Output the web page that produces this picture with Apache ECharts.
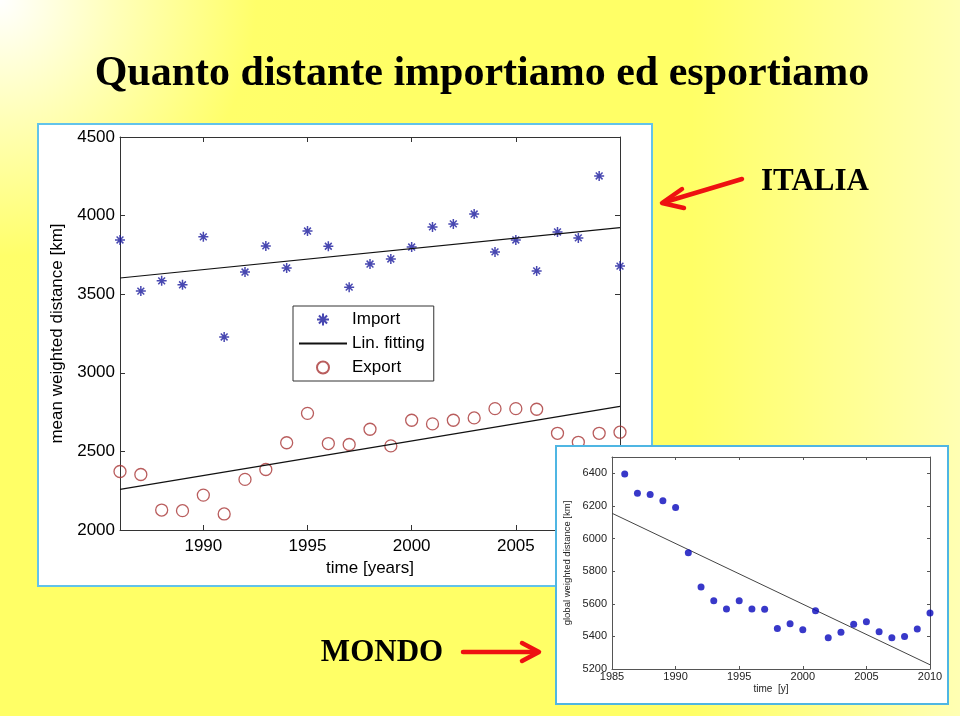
<!DOCTYPE html>
<html>
<head>
<meta charset="utf-8">
<script src="https://cdn.jsdelivr.net/npm/echarts@6/dist/echarts.min.js"></script>
<style>html,body{margin:0;padding:0;background:#fff}#c{width:960px;height:716px}</style>
</head>
<body>
<div id="c"></div>
<script>
// ---- Italy (main chart) ----
var years = [1986,1987,1988,1989,1990,1991,1992,1993,1994,1995,1996,1997,1998,1999,2000,2001,2002,2003,2004,2005,2006,2007,2008,2009,2010];
var importKm = [3845,3520,3585,3560,3865,3228,3641,3807,3667,3902,3805,3545,3692,3724,3800,3928,3947,4010,3769,3845,3648,3896,3858,4252,3679];
var exportKm = [2372,2353,2127,2123,2222,2102,2322,2385,2555,2742,2550,2544,2641,2535,2698,2675,2698,2713,2772,2772,2768,2615,2558,2615,2622];
var fitYears = [1986, 2010];
var importFit = [3603, 3923];
var exportFit = [2258, 2787];
var mainXTicks = [1990, 1995, 2000, 2005];
// ---- World (inset chart) ----
var worldYears = [1986,1987,1988,1989,1990,1991,1992,1993,1994,1995,1996,1997,1998,1999,2000,2001,2002,2003,2004,2005,2006,2007,2008,2009,2010];
var worldKm = [6395,6277,6270,6231,6190,5913,5703,5619,5568,5619,5568,5566,5449,5478,5440,5557,5392,5425,5474,5489,5429,5392,5400,5446,5544];
var worldFitYears = [1985, 2010];
var worldFit = [6155, 5226];
var worldYTicks = [5200,5400,5600,5800,6000,6200,6400];

function pairs(xs, ys){ return xs.map(function(x,i){ return [x, ys[i]]; }); }
function plain(v){ return String(v); }

var SANS = 'Liberation Sans, Arial, sans-serif';
var SERIF = 'Liberation Serif, Times New Roman, serif';
var STAR = 'path://M5,0L5,10M0,5L10,5M1.6,1.6L8.4,8.4M1.6,8.4L8.4,1.6';

var chart = echarts.init(document.getElementById('c'), null, {renderer:'canvas'});
var axisLine = {lineStyle:{color:'#333', width:1}};
var inAxisLine = {lineStyle:{color:'#555', width:1}};

var option = {
  animation: false,
  backgroundColor: '#ffffff',
  graphic: {
    elements: [
      {type:'rect', z:-20, shape:{x:0,y:0,width:960,height:716}, silent:true,
       style:{fill:{type:'radial', x:0, y:0, r:0.55, colorStops:[{offset:0,color:'#ffffff'},{offset:0.3,color:'#ffffb8'},{offset:0.65,color:'#ffff6a'},{offset:1,color:'#ffff66'}]}}},
      {type:'rect', z:-19, shape:{x:0,y:0,width:960,height:716}, silent:true,
       style:{fill:{type:'linear', x:0, y:0, x2:1, y2:0, colorStops:[{offset:0,color:'rgba(255,255,255,0)'},{offset:0.72,color:'rgba(255,255,255,0)'},{offset:1,color:'rgba(255,255,255,0.5)'}]}}},
      {type:'text', z:-15, style:{text:'Quanto distante importiamo ed esportiamo', x:482, y:74, align:'center', verticalAlign:'middle', font:'bold 42px ' + SERIF, fill:'#000'}},
      {type:'rect', z:-10, shape:{x:38,y:124,width:614,height:462}, style:{fill:'#ffffff', stroke:'#62c3ea', lineWidth:2}},
      {type:'rect', z:20, shape:{x:556,y:446,width:392,height:258}, style:{fill:'#ffffff', stroke:'#4fb6e3', lineWidth:2}},
      {type:'text', z:40, style:{text:'ITALIA', x:815, y:182, align:'center', verticalAlign:'middle', font:'bold 31px ' + SERIF, fill:'#000'}},
      {type:'text', z:40, style:{text:'MONDO', x:382, y:653, align:'center', verticalAlign:'middle', font:'bold 31px ' + SERIF, fill:'#000'}},
      {type:'line', z:40, shape:{x1:742,y1:179,x2:665,y2:202}, style:{stroke:'#ee1111', lineWidth:4.5, lineCap:'round'}},
      {type:'polyline', z:40, shape:{points:[[682,189],[662,203],[684,208]]}, style:{stroke:'#ee1111', lineWidth:4.5, lineCap:'round', lineJoin:'round', fill:null}},
      {type:'line', z:40, shape:{x1:463,y1:652,x2:536,y2:652}, style:{stroke:'#ee1111', lineWidth:4.5, lineCap:'round'}},
      {type:'polyline', z:40, shape:{points:[[522,643],[539,652],[522,661]]}, style:{stroke:'#ee1111', lineWidth:4.5, lineCap:'round', lineJoin:'round', fill:null}}
    ]
  },
  legend: {
    data: [{name:'Import'},{name:'Lin. fitting'},{name:'Export'}],
    orient: 'vertical', left: 293, top: 306,
    backgroundColor: '#ffffff', borderColor: '#333', borderWidth: 1,
    padding: [5, 9, 5, 5], itemWidth: 48, itemHeight: 12, itemGap: 7,
    textStyle: {fontSize: 17, color: '#000', fontFamily: SANS},
    selectedMode: false
  },
  grid: [
    {left:120, right:340, top:137, bottom:186},
    {left:612, right:30, top:457, bottom:47, z:25}
  ],
  xAxis: [
    {gridIndex:0, type:'value', min:1986, max:2010, position:'bottom',
     name:'time [years]', nameLocation:'middle', nameGap:27,
     nameTextStyle:{fontSize:17, color:'#000', fontFamily:SANS},
     axisLine:axisLine, splitLine:{show:false},
     axisTick:{inside:true, length:5, lineStyle:{color:'#333'}, customValues:mainXTicks},
     axisLabel:{fontSize:17, color:'#000', fontFamily:SANS, margin:8, customValues:mainXTicks, formatter:plain}},
    {gridIndex:0, type:'value', min:1986, max:2010, position:'top',
     axisLine:axisLine, splitLine:{show:false},
     axisTick:{inside:true, length:5, lineStyle:{color:'#333'}, customValues:mainXTicks},
     axisLabel:{show:false}},
    {gridIndex:1, type:'value', min:1985, max:2010, interval:5, position:'bottom', z:25,
     name:'time  [y]', nameLocation:'middle', nameGap:15,
     nameTextStyle:{fontSize:10, color:'#222', fontFamily:SANS, whiteSpace:'pre'},
     axisLine:inAxisLine, splitLine:{show:false},
     axisTick:{inside:true, length:3, lineStyle:{color:'#555'}},
     axisLabel:{fontSize:11, color:'#222', fontFamily:SANS, margin:2, formatter:plain}},
    {gridIndex:1, type:'value', min:1985, max:2010, interval:5, position:'top', z:25,
     axisLine:inAxisLine, splitLine:{show:false},
     axisTick:{inside:true, length:3, lineStyle:{color:'#555'}},
     axisLabel:{show:false}}
  ],
  yAxis: [
    {gridIndex:0, type:'value', min:2000, max:4500, interval:500, position:'left',
     name:'mean weighted distance [km]', nameLocation:'middle', nameGap:42,
     nameTextStyle:{fontSize:17, color:'#000', fontFamily:SANS},
     axisLine:axisLine, splitLine:{show:false},
     axisTick:{inside:true, length:5, lineStyle:{color:'#333'}},
     axisLabel:{fontSize:17, color:'#000', fontFamily:SANS, margin:5, formatter:plain}},
    {gridIndex:0, type:'value', min:2000, max:4500, interval:500, position:'right',
     axisLine:axisLine, splitLine:{show:false},
     axisTick:{inside:true, length:5, lineStyle:{color:'#333'}},
     axisLabel:{show:false}},
    {gridIndex:1, type:'value', min:5200, max:6500, position:'left', z:25,
     name:'global weighted distance [km]', nameLocation:'middle', nameGap:40,
     nameTextStyle:{fontSize:9.5, color:'#222', fontFamily:SANS},
     axisLine:inAxisLine, splitLine:{show:false},
     axisTick:{inside:true, length:3, lineStyle:{color:'#555'}, customValues:worldYTicks},
     axisLabel:{fontSize:11, color:'#222', fontFamily:SANS, margin:5, customValues:worldYTicks, formatter:plain}},
    {gridIndex:1, type:'value', min:5200, max:6500, position:'right', z:25,
     axisLine:inAxisLine, splitLine:{show:false},
     axisTick:{inside:true, length:3, lineStyle:{color:'#555'}, customValues:worldYTicks},
     axisLabel:{show:false}}
  ],
  series: [
    {name:'Import', type:'scatter', xAxisIndex:0, yAxisIndex:0, clip:false,
     symbol:STAR, symbolSize:10, symbolKeepAspect:true,
     itemStyle:{color:'rgba(0,0,0,0)', borderColor:'#1a1a9e', borderWidth:1.5},
     data: pairs(years, importKm)},
    {name:'Lin. fitting', type:'line', xAxisIndex:0, yAxisIndex:0, symbol:'none',
     lineStyle:{color:'#111', width:1.2}, itemStyle:{color:'#111', opacity:0},
     data: pairs(fitYears, importFit)},
    {name:'Export', type:'scatter', xAxisIndex:0, yAxisIndex:0, clip:false,
     symbol:'circle', symbolSize:12,
     itemStyle:{color:'rgba(0,0,0,0)', borderColor:'#a83434', borderWidth:1.3},
     data: pairs(years, exportKm)},
    {name:'Lin. fitting', type:'line', xAxisIndex:0, yAxisIndex:0, symbol:'none',
     lineStyle:{color:'#111', width:1.2}, itemStyle:{color:'#111', opacity:0},
     data: pairs(fitYears, exportFit)},
    {name:'World', type:'scatter', xAxisIndex:2, yAxisIndex:2, clip:false, z:30,
     symbol:'circle', symbolSize:7, itemStyle:{color:'#0606bb'},
     data: pairs(worldYears, worldKm)},
    {name:'World fit', type:'line', xAxisIndex:2, yAxisIndex:2, symbol:'none', z:30,
     lineStyle:{color:'#444', width:1}, data: pairs(worldFitYears, worldFit)}
  ]
};
chart.setOption(option);
</script>
</body>
</html>
